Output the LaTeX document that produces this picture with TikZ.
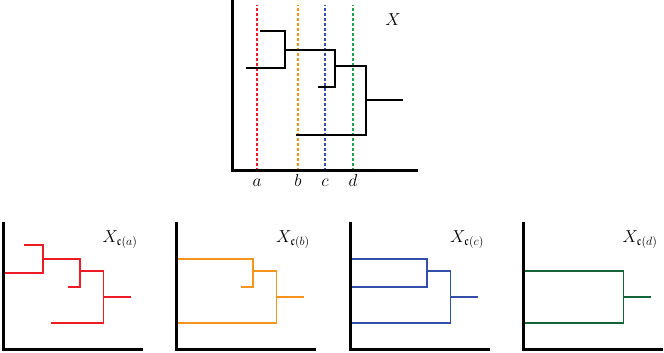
\documentclass[tikz,border=0pt]{standalone}
\usepackage{amssymb}
\definecolor{cutred}{RGB}{237,28,36}
\definecolor{cutorange}{RGB}{247,148,29}
\definecolor{cutblue}{RGB}{50,80,170}
\definecolor{cutgreen}{RGB}{30,160,80}
\definecolor{treegreen}{RGB}{20,100,55}
\tikzset{
  axisline/.style = {line width = 3pt},
  treeline/.style = {line width = 1.6pt},
  cutline/.style = {line width = 1.1pt, dash pattern = on 3pt off 2pt},
  lbl/.style = {font = \fontsize{18}{21}\selectfont}
}
\begin{document}
\begin{tikzpicture}[x = 1pt, y = 1pt]
  \useasboundingbox (0,0) rectangle (664,353);
  % full tree with the four cuts
  \begin{scope}[shift = {(232,182)}]
    \foreach \x/\l/\col in {25/a/cutred, 66/b/cutorange, 93/c/cutblue, 121/d/cutgreen} {
      \draw [cutline, draw = \col] (\x,0) -- (\x,166);
      \node [lbl, anchor = base] (cut\l) at (\x,-16) {$\l$};
    }
    \draw [treeline] (28,140) -- (53,140) -- (53,103) -- (14,103);
    \draw [treeline] (53,121) -- (103,121) -- (103,84) -- (86,84);
    \draw [treeline] (103,105) -- (134,105) -- (134,36) -- (64,36);
    \draw [treeline] (134,71) -- (171,71);
    \draw [axisline] (0,171) -- (0,0) -- (186,0);
    \node [lbl] (full) at (161,151) {$X$};
  \end{scope}
  % cut at a
  \begin{scope}[shift = {(3,3)}, scale = .75]
    \draw [treeline, cutred] (28,140) -- (53,140) -- (53,103) -- (0,103);
    \draw [treeline, cutred] (53,121) -- (103,121) -- (103,84) -- (86,84);
    \draw [treeline, cutred] (103,105) -- (134,105) -- (134,36) -- (64,36);
    \draw [treeline, cutred] (134,71) -- (171,71);
    \draw [axisline] (0,171) -- (0,0) -- (186,0);
    \node [lbl] (tree a) at (156,147) {$X_{\mathfrak{c}(a)}$};
  \end{scope}
  % cut at b
  \begin{scope}[shift = {(176,3)}, scale = .75]
    \draw [treeline, cutorange] (0,121) -- (103,121) -- (103,84) -- (86,84);
    \draw [treeline, cutorange] (103,105) -- (134,105) -- (134,36) -- (0,36);
    \draw [treeline, cutorange] (134,71) -- (171,71);
    \draw [axisline] (0,171) -- (0,0) -- (186,0);
    \node [lbl] (tree b) at (156,147) {$X_{\mathfrak{c}(b)}$};
  \end{scope}
  % cut at c
  \begin{scope}[shift = {(350,3)}, scale = .75]
    \draw [treeline, cutblue] (0,121) -- (103,121) -- (103,84) -- (0,84);
    \draw [treeline, cutblue] (103,105) -- (134,105) -- (134,36) -- (0,36);
    \draw [treeline, cutblue] (134,71) -- (171,71);
    \draw [axisline] (0,171) -- (0,0) -- (186,0);
    \node [lbl] (tree c) at (156,147) {$X_{\mathfrak{c}(c)}$};
  \end{scope}
  % cut at d
  \begin{scope}[shift = {(523,3)}, scale = .75]
    \draw [treeline, treegreen] (0,105) -- (134,105) -- (134,36) -- (0,36);
    \draw [treeline, treegreen] (134,71) -- (171,71);
    \draw [axisline] (0,171) -- (0,0) -- (186,0);
    \node [lbl] (tree d) at (156,147) {$X_{\mathfrak{c}(d)}$};
  \end{scope}
\end{tikzpicture}
\end{document}
